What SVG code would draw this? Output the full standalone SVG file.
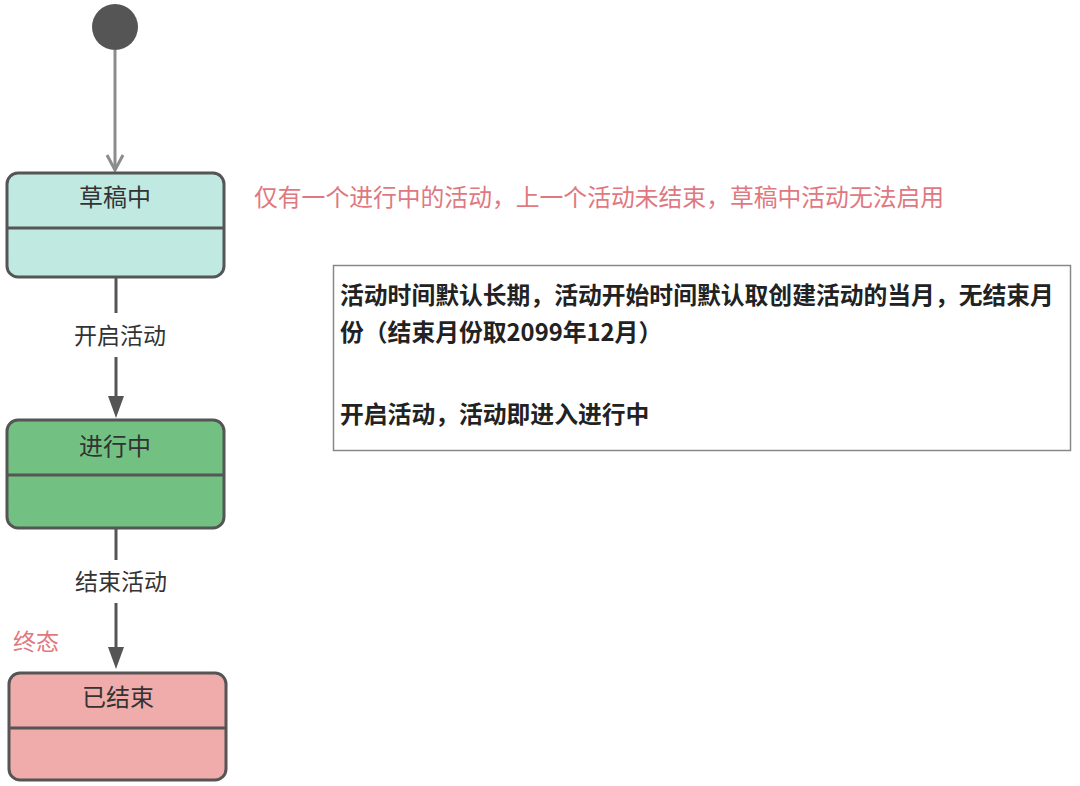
<svg xmlns="http://www.w3.org/2000/svg" width="1080" height="786" viewBox="0 0 1080 786">
<style>
.state rect{stroke:#555;stroke-width:3}
.state line{stroke:#555;stroke-width:3}
.title{font-family:"Noto Sans CJK SC","Liberation Sans",sans-serif;font-size:24px;fill:#333;text-anchor:middle}
.lbl{font-family:"Noto Sans CJK SC","Liberation Sans",sans-serif;font-size:23px;fill:#333;text-anchor:middle}
.red{font-family:"Noto Sans CJK SC","Liberation Sans",sans-serif;fill:#e0787f}
.note{font-family:"Noto Sans CJK SC","Liberation Sans",sans-serif;font-size:23.8px;font-weight:bold;fill:#222}
.conn{stroke:#555;stroke-width:3;fill:none}
</style>
<rect width="1080" height="786" fill="#fff"/>
<g id="initial">
<circle cx="115" cy="27" r="23" fill="#555"/>
</g>
<g id="connectors">
<line x1="115" y1="50" x2="115" y2="169" stroke="#8c8c8c" stroke-width="3"/>
<polyline points="107,155 115,170 123,155" fill="none" stroke="#8c8c8c" stroke-width="3"/>
<line class="conn" x1="116" y1="277" x2="116" y2="313"/>
<path d="M116,357 L116,396" class="conn"/>
<path d="M108,396 L124,396 L116,418 Z" fill="#555"/>
<line class="conn" x1="116" y1="528" x2="116" y2="560"/>
<path d="M116,603 L116,647" class="conn"/>
<path d="M108,647 L124,647 L116,669 Z" fill="#555"/>
<text class="lbl" x="120" y="344">开启活动</text>
<text class="lbl" x="121" y="590">结束活动</text>
</g>
<g id="draft" class="state">
<rect x="7" y="173" width="217" height="104" rx="11" fill="#c0e9e2"/>
<line x1="7" y1="228" x2="224" y2="228"/>
<text class="title" x="115" y="206">草稿中</text>
</g>
<g id="running" class="state">
<rect x="7" y="420" width="217" height="108" rx="11" fill="#72c182"/>
<line x1="7" y1="475" x2="224" y2="475"/>
<text class="title" x="115" y="455">进行中</text>
</g>
<g id="ended" class="state">
<rect x="9" y="673" width="217" height="107" rx="11" fill="#f0abab"/>
<line x1="9" y1="728" x2="226" y2="728"/>
<text class="title" x="118" y="706">已结束</text>
</g>
<g id="note-draft">
<text class="red" x="254" y="206" font-size="23.8">仅有一个进行中的活动，上一个活动未结束，草稿中活动无法启用</text>
</g>
<g id="note-final">
<text class="red" x="13" y="650" font-size="23">终态</text>
</g>
<g id="note-box">
<rect x="333.5" y="265.5" width="737" height="185" fill="#fff" stroke="#888" stroke-width="1.5"/>
<text class="note" x="340" y="304">活动时间默认长期，活动开始时间默认取创建活动的当月，无结束月</text>
<text class="note" x="340" y="341">份（结束月份取2099年12月）</text>
<text class="note" x="340" y="423">开启活动，活动即进入进行中</text>
</g>
</svg>
